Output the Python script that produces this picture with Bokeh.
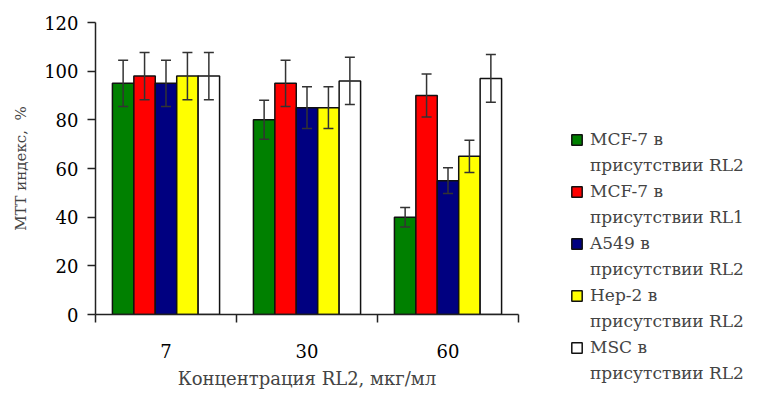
from bokeh.plotting import figure
from bokeh.models import (ColumnDataSource, FixedTicker, Whisker, TeeHead,
                          Legend, LegendItem, Range1d)
from bokeh.embed import file_html
from bokeh.resources import INLINE

# ---- data ----
concentrations = ["7", "30", "60"]
series_first = ["MCF-7 в", "MCF-7 в", "A549 в", "Hep-2 в", "MSC в"]
series_second = ["присутствии RL2", "присутствии RL1", "присутствии RL2",
                 "присутствии RL2", "присутствии RL2"]
series_colors = ["#008000", "#FF0000", "#000080", "#FFFF00", "#FFFFFF"]
mcf7_rl2 = [95, 80, 40]
mcf7_rl1 = [98, 95, 90]
a549_rl2 = [95, 85, 55]
hep2_rl2 = [98, 85, 65]
msc_rl2 = [98, 96, 97]
err_mcf7_rl2 = [9.5, 8, 4]
err_mcf7_rl1 = [9.7, 9.5, 8.8]
err_a549_rl2 = [9.5, 8.6, 5.3]
err_hep2_rl2 = [9.7, 8.6, 6.6]
err_msc_rl2 = [9.7, 9.7, 9.8]
yticks = [0, 20, 40, 60, 80, 100, 120]

values = [mcf7_rl2, mcf7_rl1, a549_rl2, hep2_rl2, msc_rl2]
errors = [err_mcf7_rl2, err_mcf7_rl1, err_a549_rl2, err_hep2_rl2, err_msc_rl2]

FONT = "DejaVu Serif"
AX = "#222222"

p = figure(output_backend="svg", toolbar_location=None,
           x_range=Range1d(-0.5, 2.5), y_range=Range1d(0, 120),
           frame_width=423, frame_height=292,
           min_border_left=95, min_border_top=22, min_border_right=0,
           min_border_bottom=73)
p.outline_line_color = None
p.grid.grid_line_color = None
p.background_fill_color = "white"

bar_w = 0.152
n = len(values)
items = []
blank = p.vbar(x=[], top=[], width=bar_w, fill_alpha=0, line_alpha=0)
for k in range(n):
    off = (k - (n - 1) / 2) * bar_w
    xs = [i + off for i in range(len(concentrations))]
    src = ColumnDataSource(dict(x=xs, top=values[k],
                                upper=[v + e for v, e in zip(values[k], errors[k])],
                                lower=[v - e for v, e in zip(values[k], errors[k])]))
    r = p.vbar(x="x", top="top", width=bar_w, bottom=0, source=src,
               fill_color=series_colors[k], line_color="#111111", line_width=1.5)
    w = Whisker(base="x", upper="upper", lower="lower", source=src,
                level="overlay",
                line_color="#333333", line_width=1.5,
                upper_head=TeeHead(size=10, line_color="#333333", line_width=1.5),
                lower_head=TeeHead(size=10, line_color="#333333", line_width=1.5))
    p.add_layout(w)
    items.append(LegendItem(label=series_first[k], renderers=[r]))
    items.append(LegendItem(label=series_second[k], renderers=[blank]))

xa = p.xaxis[0]
xa.ticker = FixedTicker(ticks=[0, 1, 2], minor_ticks=[-0.5, 0.5, 1.5, 2.5])
xa.major_label_overrides = {i: c for i, c in enumerate(concentrations)}
xa.major_tick_out = 0
xa.major_tick_in = 0
xa.minor_tick_out = 8
xa.minor_tick_in = 0
xa.minor_tick_line_color = AX
xa.minor_tick_line_width = 1.5
xa.axis_line_color = AX
xa.axis_line_width = 1.5
xa.major_label_standoff = 21
xa.major_label_text_font = FONT
xa.major_label_text_font_size = "18px"
xa.major_label_text_color = "black"
xa.axis_label = "Концентрация RL2, мкг/мл"
xa.axis_label_text_font = FONT
xa.axis_label_text_font_size = "18px"
xa.axis_label_text_font_style = "normal"
xa.axis_label_standoff = 7

ya = p.yaxis[0]
ya.ticker = FixedTicker(ticks=yticks)
ya.major_tick_out = 8
ya.major_tick_in = 0
ya.minor_tick_line_color = None
ya.major_tick_line_color = AX
ya.major_tick_line_width = 1.5
ya.axis_line_color = AX
ya.axis_line_width = 1.5
ya.major_label_standoff = 9
ya.major_label_text_font = FONT
ya.major_label_text_font_size = "18px"
ya.major_label_text_color = "black"
ya.axis_label = "МТТ индекс,\u00a0\u00a0%"
ya.axis_label_text_font = FONT
ya.axis_label_text_font_size = "15px"
ya.axis_label_text_font_style = "normal"
ya.axis_label_standoff = 11

legend = Legend(items=items, location=(52, -69), border_line_color=None,
                background_fill_alpha=0,
                label_text_font=FONT, label_text_font_size="17px",
                label_height=20,
                glyph_width=13, glyph_height=13, spacing=6, padding=0,
                label_standoff=7, margin=0)
p.add_layout(legend, "right")
p.min_border_right = 229

open("out.html", "w").write(file_html(p, INLINE))
